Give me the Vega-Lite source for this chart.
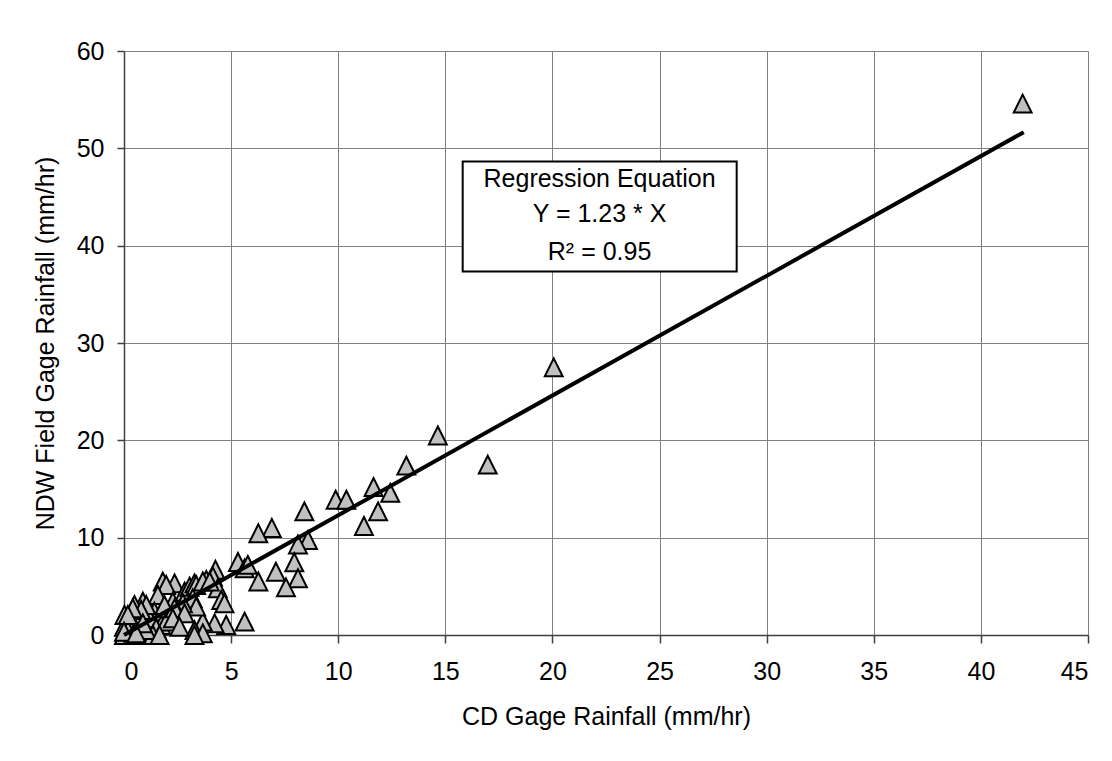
{
  "$schema": "https://vega.github.io/schema/vega-lite/v6.json",
  "width": 964,
  "height": 584,
  "autosize": {"type": "none"},
  "padding": {"left": 124, "top": 51, "right": 24, "bottom": 126},
  "background": "white",
  "datasets": {
    "obs": [
      {"cd": 41.95, "ndw": 54.6}, {"cd": 20.06, "ndw": 27.5}, {"cd": 16.98, "ndw": 17.5}, {"cd": 14.65, "ndw": 20.5},
      {"cd": 13.18, "ndw": 17.4}, {"cd": 11.65, "ndw": 15.2}, {"cd": 12.43, "ndw": 14.6}, {"cd": 9.88, "ndw": 13.9},
      {"cd": 10.38, "ndw": 13.9}, {"cd": 11.86, "ndw": 12.7}, {"cd": 11.2, "ndw": 11.2}, {"cd": 8.42, "ndw": 12.7},
      {"cd": 6.9, "ndw": 11.0}, {"cd": 6.27, "ndw": 10.45}, {"cd": 8.59, "ndw": 9.76}, {"cd": 8.12, "ndw": 9.3},
      {"cd": 7.95, "ndw": 7.47}, {"cd": 8.12, "ndw": 5.83}, {"cd": 7.56, "ndw": 4.9}, {"cd": 7.09, "ndw": 6.5},
      {"cd": 6.27, "ndw": 5.5}, {"cd": 5.32, "ndw": 7.5}, {"cd": 5.63, "ndw": 6.85}, {"cd": 5.78, "ndw": 7.2},
      {"cd": 4.27, "ndw": 6.7}, {"cd": 4.15, "ndw": 6.0}, {"cd": 3.84, "ndw": 5.65}, {"cd": 4.38, "ndw": 4.8},
      {"cd": 4.54, "ndw": 3.6}, {"cd": 4.69, "ndw": 3.26}, {"cd": 5.63, "ndw": 1.37}, {"cd": 4.77, "ndw": 1.03},
      {"cd": 4.23, "ndw": 1.2}, {"cd": 3.68, "ndw": 1.37}, {"cd": 3.29, "ndw": 0.5}, {"cd": 3.68, "ndw": 0.17},
      {"cd": 1.81, "ndw": 5.48}, {"cd": 2.36, "ndw": 5.3}, {"cd": 1.97, "ndw": 5.14}, {"cd": 2.83, "ndw": 4.45},
      {"cd": 3.06, "ndw": 4.96}, {"cd": 3.29, "ndw": 5.3}, {"cd": 3.37, "ndw": 5.14}, {"cd": 3.68, "ndw": 5.5},
      {"cd": 4.0, "ndw": 5.5}, {"cd": 1.58, "ndw": 4.1}, {"cd": 0.88, "ndw": 3.42}, {"cd": 0.49, "ndw": 3.08},
      {"cd": 0.02, "ndw": 2.06}, {"cd": 2.28, "ndw": 3.42}, {"cd": 3.21, "ndw": 3.77}, {"cd": 3.37, "ndw": 2.91},
      {"cd": 2.75, "ndw": 3.26}, {"cd": 2.44, "ndw": 2.57}, {"cd": 2.36, "ndw": 1.71}, {"cd": 1.81, "ndw": 2.06},
      {"cd": 1.42, "ndw": 2.4}, {"cd": 1.04, "ndw": 2.4}, {"cd": 1.19, "ndw": 1.71}, {"cd": 1.74, "ndw": 1.03},
      {"cd": 1.5, "ndw": 0.69}, {"cd": 1.97, "ndw": 1.37}, {"cd": 0.65, "ndw": 1.54}, {"cd": 0.26, "ndw": 1.03},
      {"cd": 0.0, "ndw": 0.85}, {"cd": 0.0, "ndw": 0.0}, {"cd": 0.41, "ndw": 0.0}, {"cd": 0.88, "ndw": 0.0},
      {"cd": 1.35, "ndw": 0.0}, {"cd": 0.18, "ndw": 0.5}, {"cd": 0.57, "ndw": 0.5}, {"cd": 1.04, "ndw": 0.5},
      {"cd": 1.89, "ndw": 3.08}, {"cd": 1.04, "ndw": 3.08}, {"cd": 0.8, "ndw": 2.57}, {"cd": 0.41, "ndw": 2.74},
      {"cd": 0.18, "ndw": 2.06}, {"cd": 2.36, "ndw": 2.74}, {"cd": 2.83, "ndw": 2.23}, {"cd": 2.28, "ndw": 1.71},
      {"cd": 0.88, "ndw": 1.2}, {"cd": 0.0, "ndw": 0.34}, {"cd": 0.57, "ndw": 0.17}, {"cd": 1.66, "ndw": 0.0},
      {"cd": 2.59, "ndw": 0.85}, {"cd": 3.29, "ndw": 0.0}
    ],
    "fit": [{"cd": 0, "ndw": 0}, {"cd": 42, "ndw": 51.66}],
    "box": [{"x1": 15.81, "x2": 28.6, "y1": 37.34, "y2": 48.64}],
    "notes": [
      {"cd": 22.2, "ndw": 46.01, "label": "Regression Equation"},
      {"cd": 22.2, "ndw": 42.48, "label": "Y = 1.23 * X"},
      {"cd": 22.2, "ndw": 38.54, "label": "R² = 0.95"}
    ]
  },
  "config": {
    "view": {"stroke": null},
    "font": "Liberation Sans",
    "axis": {
      "grid": true,
      "gridColor": "#808080",
      "gridWidth": 1,
      "gridOpacity": 1,
      "domainColor": "#404040",
      "domainWidth": 1.5,
      "tickColor": "#404040",
      "tickWidth": 1.5,
      "labelFont": "Liberation Sans",
      "labelFontSize": 25,
      "labelColor": "#000000",
      "titleFont": "Liberation Sans",
      "titleFontSize": 25,
      "titleFontWeight": "normal",
      "titleColor": "#000000"
    }
  },
  "layer": [
    {
      "data": {"name": "obs"},
      "mark": {"type": "point", "shape": "M0,-1L1,1L-1,1Z", "size": 320, "filled": true, "fill": "#c0c0c0", "stroke": "#000000", "strokeWidth": 2, "opacity": 1},
      "encoding": {
        "x": {
          "field": "cd", "type": "quantitative",
          "scale": {"domain": [0, 45], "nice": false, "zero": true},
          "axis": {
            "values": [0, 5, 10, 15, 20, 25, 30, 35, 40, 45],
            "title": "CD Gage Rainfall (mm/hr)",
            "tickSize": 8,
            "labelPadding": 16,
            "titleBaseline": "alphabetic",
            "titleY": 89
          }
        },
        "y": {
          "field": "ndw", "type": "quantitative",
          "scale": {"domain": [0, 60], "nice": false},
          "axis": {
            "values": [0, 10, 20, 30, 40, 50, 60],
            "title": "NDW Field Gage Rainfall (mm/hr)",
            "tickSize": 7,
            "labelPadding": 13,
            "titleBaseline": "alphabetic",
            "titleX": -71,
            "titleY": 292,
            "titleAngle": -90
          }
        }
      }
    },
    {
      "data": {"name": "fit"},
      "mark": {"type": "line", "color": "#000000", "strokeWidth": 4},
      "encoding": {
        "x": {"field": "cd", "type": "quantitative"},
        "y": {"field": "ndw", "type": "quantitative"}
      }
    },
    {
      "data": {"name": "box"},
      "mark": {"type": "rect", "fill": "#ffffff", "stroke": "#000000", "strokeWidth": 2},
      "encoding": {
        "x": {"field": "x1", "type": "quantitative"},
        "x2": {"field": "x2"},
        "y": {"field": "y1", "type": "quantitative"},
        "y2": {"field": "y2"}
      }
    },
    {
      "data": {"name": "notes"},
      "mark": {"type": "text", "fontSize": 25, "font": "Liberation Sans", "color": "#000000", "align": "center", "baseline": "alphabetic"},
      "encoding": {
        "x": {"field": "cd", "type": "quantitative"},
        "y": {"field": "ndw", "type": "quantitative"},
        "text": {"field": "label"}
      }
    }
  ]
}
